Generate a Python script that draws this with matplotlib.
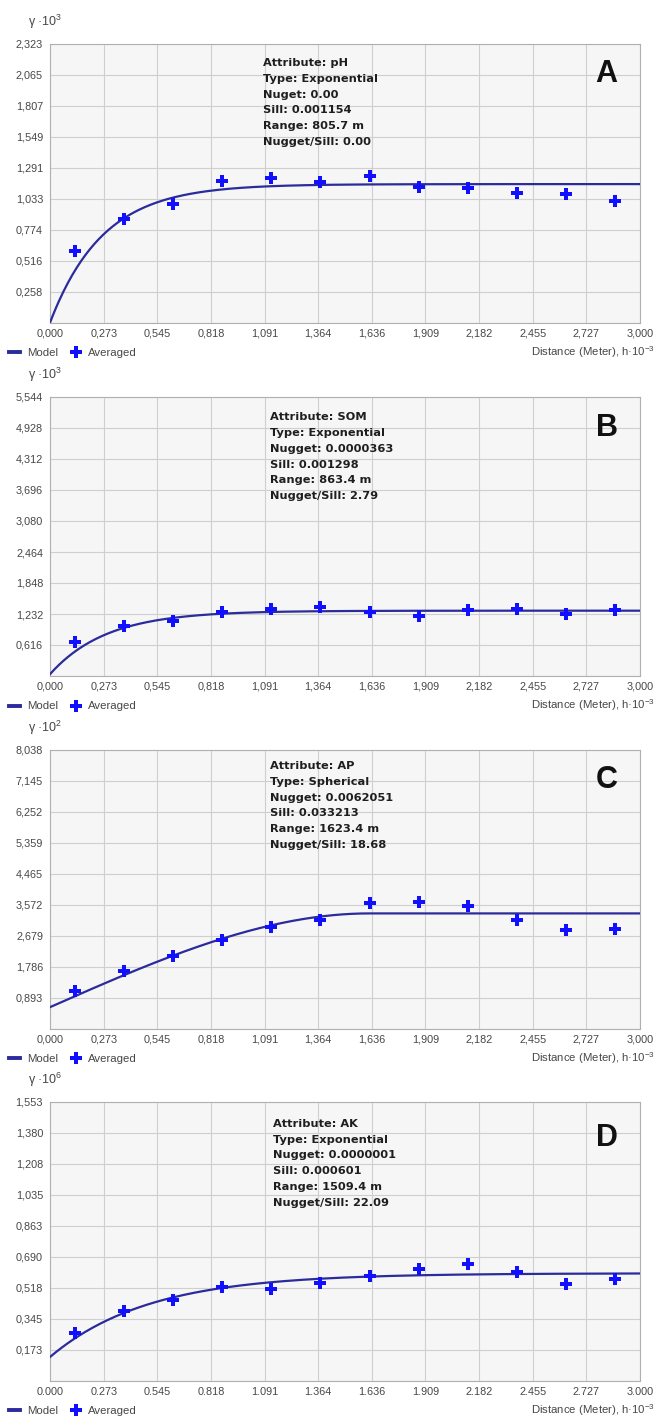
import numpy as np
import matplotlib
matplotlib.use("Agg")
import matplotlib.pyplot as plt
from matplotlib.lines import Line2D

plt.rcParams['font.family'] = ['Liberation Sans', 'DejaVu Sans']
plt.rcParams['mathtext.fontset'] = 'custom'
plt.rcParams['mathtext.rm'] = 'Liberation Sans'
plt.rcParams['mathtext.it'] = 'Liberation Sans'

# ---------------- data ----------------
lags = [0.125, 0.375, 0.625, 0.875, 1.125, 1.375, 1.625, 1.875, 2.125, 2.375, 2.625, 2.875]

A_vals = [0.600, 0.862, 0.985, 1.180, 1.202, 1.169, 1.224, 1.134, 1.120, 1.079, 1.070, 1.010]
B_vals = [0.670, 0.984, 1.085, 1.272, 1.339, 1.373, 1.272, 1.185, 1.306, 1.339, 1.239, 1.306]
C_vals = [1.083, 1.672, 2.099, 2.546, 2.935, 3.125, 3.610, 3.638, 3.524, 3.125, 2.831, 2.859]
D_vals = [0.267, 0.390, 0.449, 0.523, 0.510, 0.542, 0.585, 0.620, 0.650, 0.607, 0.538, 0.564]

# model parameters in plotted units (nugget, sill, range in h*10^-3)
A_model = ("exp", 0.0, 1.154, 0.8057)
B_model = ("exp", 0.0363, 1.298, 0.8634)
C_model = ("sph", 0.6205, 3.3213, 1.6234)
D_model = ("exp", 0.132, 0.598, 1.5094)

x_ticks = [0.000, 0.273, 0.545, 0.818, 1.091, 1.364, 1.636, 1.909, 2.182, 2.455, 2.727, 3.000]
A_yticks = [0.000, 0.258, 0.516, 0.774, 1.033, 1.291, 1.549, 1.807, 2.065, 2.323]
B_yticks = [0.000, 0.616, 1.232, 1.848, 2.464, 3.080, 3.696, 4.312, 4.928, 5.544]
C_yticks = [0.000, 0.893, 1.786, 2.679, 3.572, 4.465, 5.359, 6.252, 7.145, 8.038]
D_yticks = [0.000, 0.173, 0.345, 0.518, 0.690, 0.863, 1.035, 1.208, 1.380, 1.553]

A_info = ["Attribute: pH", "Type: Exponential", "Nuget: 0.00", "Sill: 0.001154",
          "Range: 805.7 m", "Nugget/Sill: 0.00"]
B_info = ["Attribute: SOM", "Type: Exponential", "Nugget: 0.0000363", "Sill: 0.001298",
          "Range: 863.4 m", "Nugget/Sill: 2.79"]
C_info = ["Attribute: AP", "Type: Spherical", "Nugget: 0.0062051", "Sill: 0.033213",
          "Range: 1623.4 m", "Nugget/Sill: 18.68"]
D_info = ["Attribute: AK", "Type: Exponential", "Nugget: 0.0000001", "Sill: 0.000601",
          "Range: 1509.4 m", "Nugget/Sill: 22.09"]

exponents = ["3", "3", "2", "6"]
letters = ["A", "B", "C", "D"]
x_dec = [",", ",", ",", "."]


def model_curve(kind, nug, sill, rng, h):
    h = np.asarray(h)
    if kind == "exp":
        f = 1 - np.exp(-3 * h / rng)
    else:
        r = np.clip(h / rng, 0, 1)
        f = 1.5 * r - 0.5 * r ** 3
    return nug + (sill - nug) * f


W, H = 660, 1416
fig = plt.figure(figsize=(W / 100, H / 100), dpi=100)

bottoms_px = [322.7, 676.0, 1028.7, 1380.7]
left_px, width_px, height_px = 50, 590, 279

panels = [
    (A_vals, A_model, A_yticks, A_info),
    (B_vals, B_model, B_yticks, B_info),
    (C_vals, C_model, C_yticks, C_info),
    (D_vals, D_model, D_yticks, D_info),
]

model_col = "#2b2b9c"
pt_col = "#1010ff"
tick_col = "#474747"

info_off = [18, 19, 15, 21]       # first line centre below axes top (px)
info_x = [263, 270, 270, 273]
info_sp = 15.8
letter_cy = [74, 427.5, 779.5, 1138]

h_grid = np.linspace(0, 3.0, 400)


def fy(px):
    return (H - px) / H


for i, (vals, mdl, yt, info) in enumerate(panels):
    b = bottoms_px[i]
    top_px = b - height_px
    ax = fig.add_axes([left_px / W, fy(b), width_px / W, height_px / H])
    ax.set_facecolor("#f6f6f6")
    ax.set_xlim(0, 3.0)
    ax.set_ylim(0, yt[-1])
    ax.set_xticks(x_ticks)
    ax.set_xticklabels([f"{v:.3f}".replace(".", x_dec[i]) for v in x_ticks])
    ax.set_yticks(yt)
    ax.set_yticklabels([""] + [f"{v:.3f}".replace(".", ",") for v in yt[1:]])
    ax.tick_params(length=0, labelsize=7.8, colors=tick_col)
    ax.tick_params(axis="x", pad=4.3)
    ax.tick_params(axis="y", pad=5)
    ax.grid(True, color="#cfcfcf", lw=0.8)
    ax.set_axisbelow(True)
    for s in ax.spines.values():
        s.set_color("#b0b0b0")
        s.set_linewidth(0.8)

    kind, nug, sill, rng = mdl
    ax.plot(h_grid, model_curve(kind, nug, sill, rng, h_grid), color=model_col, lw=1.6,
            zorder=3)
    ax.plot(lags, vals, linestyle="none", marker="P", markersize=8, color=pt_col,
            markeredgewidth=0, zorder=4)

    # info text, one line at a time
    for j, line in enumerate(info):
        cy = top_px + info_off[i] + j * info_sp
        fig.text(info_x[i] / W, fy(cy + 4.2), line, ha="left", va="baseline",
                 fontsize=8.2, fontweight="bold", color="#1e1e1e",
                 family="DejaVu Sans")
    fig.text(606.5 / W, fy(letter_cy[i]), letters[i], ha="center", va="center",
             fontsize=22, fontweight="bold", color="#111111")

    # gamma label
    fig.text(28 / W, fy(top_px - 22), "γ ·10$^{%s}$" % exponents[i],
             ha="left", va="center", fontsize=9, color=tick_col)

    # distance label
    fig.text(655 / W, fy(b + 29), "Distance (Meter), h·10$^{-3}$",
             ha="right", va="center", fontsize=8.2, color=tick_col)

    # legend
    handles = [Line2D([], [], color=model_col, lw=2.8),
               Line2D([], [], linestyle="none", marker="P", markersize=8,
                      color=pt_col, markeredgewidth=0)]
    leg = fig.legend(handles, ["Model", "Averaged"], loc="center left",
                     bbox_to_anchor=(9 / W, fy(b + 30.5)), ncol=2,
                     frameon=False, fontsize=8.2, handlelength=1.0,
                     handletextpad=0.55, columnspacing=1.1, borderaxespad=0,
                     borderpad=0)
    for t in leg.get_texts():
        t.set_color(tick_col)

fig.savefig("out.png", dpi=100)
